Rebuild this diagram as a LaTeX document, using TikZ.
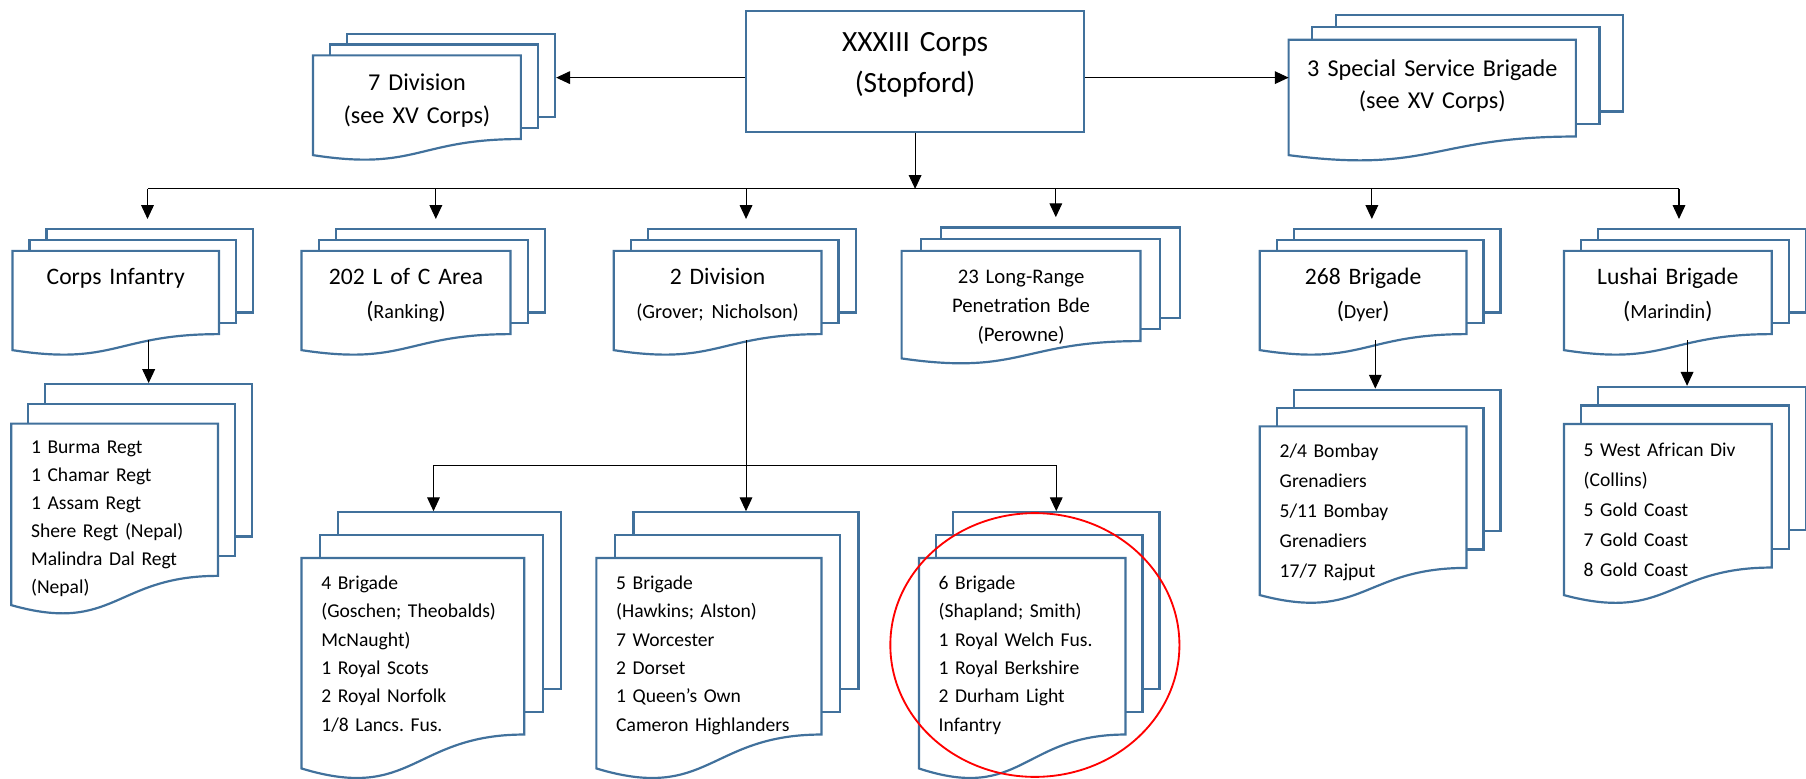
\documentclass[tikz,border=0pt]{standalone}
\usepackage{fontspec}
\setmainfont{Carlito}
\usetikzlibrary{arrows.meta,calc,fit,positioning}
\definecolor{sheetblue}{RGB}{65,113,156}
\pgfdeclarelayer{background}
\pgfsetlayers{background,main}
\frenchspacing
\newcommand{\cmdr}[1]{{\fontsize{17.5}{30}\selectfont #1}}
\newcommand{\multidoc}[1]{%
  \begin{pgfonlayer}{background}
    \path let \p1=($(#1.north east)-(#1.south west)$) in
      coordinate (#1-off) at (0.0824*\x1,0.1087*\y1);
    \coordinate (#1-se) at ($(#1.south east)!0.1613!(#1.north east)$);
    \coordinate (#1-c1) at ($(#1.south)!0.1613!(#1.north)$);
    \coordinate (#1-c2) at ($(#1.south)!-0.1613!(#1.north)$);
    \coordinate (#1-wave) at ($(#1.south)!0.1!(#1.north)$);
    \coordinate (#1-nw2) at ($(#1.north west)+2*(#1-off)$);
    \coordinate (#1-se2) at ($(#1-se)+2*(#1-off)$);
    \coordinate (#1-nw1) at ($(#1.north west)+(#1-off)$);
    \coordinate (#1-se1) at ($(#1-se)+(#1-off)$);
    \node[sheet, fit=(#1-nw2)(#1-se2)] (#1-b2) {};
    \node[sheet, fit=(#1-nw1)(#1-se1)] (#1-b1) {};
    \draw[sheet] (#1.north west) -- (#1.north east) -- (#1-se)
      .. controls (#1-c1) and (#1-c2) .. (#1.south west) -- cycle;
  \end{pgfonlayer}}

\begin{document}
\begin{tikzpicture}[x=1pt, y=-1pt,
    sheet/.style={draw=sheetblue, fill=white, line width=1.9pt, inner sep=0pt},
    doc/.style args={#1/#2/#3}{minimum width=#1pt, minimum height=#2pt, inner sep=0pt, text width=#1pt,
      text height=#3pt, text depth=#2pt-#3pt, align=center, font=\fontsize{20.5}{30}\selectfont},
    list/.style args={#1/#2/#3}{doc=#1/#2/#3, inner xsep=17pt, text width=#1pt-34pt,
      align=left, font=\fontsize{17}{24.6}\selectfont},
    corpsbox/.style={doc=293/105/35, draw=sheetblue, line width=1.9pt, font=\fontsize{25.5}{36}\selectfont},
    arrow/.style={-{Triangle[length=12pt, width=11pt]}, line width=0.9pt},
    link/.style={line width=0.9pt},
    ring/.style={draw=red, line width=1.6pt}
  ]
  \useasboundingbox (0,0) rectangle (1568,676);

  \node[corpsbox] (corps) at (794.5,61.8) {XXXIII Corps\\(Stopford)};
  \node[doc=180/86.2/30.3, font=\fontsize{21}{28.5}\selectfont] (div7) at (362,91.4) {7 Division\\(see XV Corps)};
  \node[doc=249/99.8/31.4, font=\fontsize{21}{27.8}\selectfont] (ssb) at (1243.5,84.6) {3 Special Service Brigade\\(see XV Corps)};

  \node[doc=179/85.8/28.6] (cinf) at (100.5,260.9) {Corps Infantry};
  \node[doc=181/85.8/28.6] (loc) at (352.5,260.9) {202 L of C Area\\(\cmdr{Ranking})};
  \node[doc=180/85.8/28.6] (div2) at (623,260.9) {2 Division\\\cmdr{(Grover; Nicholson)}};
  \node[doc=207/93/27.8, font=\fontsize{18}{25.3}\selectfont] (lrp) at (886.5,264.5) {23 Long-Range\\Penetration Bde\\(Perowne)};
  \node[doc=179/85.8/28.6] (b268) at (1183.5,260.9) {268 Brigade\\(\cmdr{Dyer})};
  \node[doc=180/85.8/28.6] (lushai) at (1448,260.9) {Lushai Brigade\\(\cmdr{Marindin})};

  \node[list=179/157.2/26.1, font=\fontsize{17}{24.2}\selectfont] (cinfl) at (99.5,446.6) {1 Burma Regt\\1 Chamar Regt\\1 Assam Regt\\Shere Regt (Nepal)\\Malindra Dal Regt\\(Nepal)};
  \node[list=193/182.3/27.2] (b4) at (358.5,575.85) {4 Brigade\\(Goschen; Theobalds)\\McNaught)\\1 Royal Scots\\2 Royal Norfolk\\1/8 Lancs. Fus.};
  \node[list=195/182.3/27.2] (b5) at (615.5,575.85) {5 Brigade\\(Hawkins; Alston)\\7 Worcester\\2 Dorset\\1 Queen’s Own\\Cameron Highlanders};
  \node[list=179/182.3/27.2] (b6) at (887.5,575.85) {6 Brigade\\(Shapland; Smith)\\1 Royal Welch Fus.\\1 Royal Berkshire\\2 Durham Light\\Infantry};
  \node[list=179/146.1/27.1, font=\fontsize{17}{26}\selectfont] (b268l) at (1183.5,443.45) {2/4 Bombay\\Grenadiers\\5/11 Bombay\\Grenadiers\\17/7 Rajput};
  \node[list=180/148.1/27.7, font=\fontsize{17}{26}\selectfont] (lushail) at (1448,442.45) {5 West African Div\\(Collins)\\5 Gold Coast\\7 Gold Coast\\8 Gold Coast};

  \multidoc{div7} \multidoc{ssb}
  \multidoc{cinf} \multidoc{loc} \multidoc{div2} \multidoc{lrp} \multidoc{b268} \multidoc{lushai}
  \multidoc{cinfl} \multidoc{b4} \multidoc{b5} \multidoc{b6} \multidoc{b268l} \multidoc{lushail}

  \coordinate (bus) at (794.5,164);
  \coordinate (bus2) at (648,404);

  \draw[arrow] ([yshift=-5.6pt]corps.west) -- ([yshift=-5.6pt]corps.west -| div7-b2.east);
  \draw[arrow] ([yshift=-5.6pt]corps.east) -- ([yshift=-5.6pt]corps.east -| ssb.west);
  \draw[arrow] (corps.south) -- (bus);

  \draw[link] ([xshift=-2pt]cinf-b2.north |- bus) -- ([xshift=-20pt]lushai-b2.north |- bus);
  \draw[arrow, shorten >=8pt] ([xshift=-2pt]cinf-b2.north |- bus) -- ([xshift=-2pt]cinf-b2.north);
  \draw[arrow, shorten >=8pt] ([xshift=-4pt]loc-b2.north |- bus) -- ([xshift=-4pt]loc-b2.north);
  \draw[arrow, shorten >=8pt] ([xshift=-5pt]div2-b2.north |- bus) -- ([xshift=-5pt]div2-b2.north);
  \draw[arrow, shorten >=8pt] ([xshift=-4pt]lrp-b2.north |- bus) -- ([xshift=-4pt]lrp-b2.north);
  \draw[arrow, shorten >=8pt] ([xshift=-22pt]b268-b2.north |- bus) -- ([xshift=-22pt]b268-b2.north);
  \draw[arrow, shorten >=8pt] ([xshift=-20pt]lushai-b2.north |- bus) -- ([xshift=-20pt]lushai-b2.north);

  \draw[arrow] (cinf-wave -| cinfl-b2.north) -- (cinfl-b2.north);
  \draw[arrow] ([xshift=-19pt]b268-wave -| b268l-b2.north) -- ([xshift=-19pt]b268l-b2.north);
  \draw[arrow] ([xshift=-13pt]lushai-wave -| lushail-b2.north) -- ([xshift=-13pt]lushail-b2.north);

  \draw[arrow] (div2-wave -| b5-b2.north) -- (b5-b2.north);
  \draw[link] ([xshift=-14pt]b4-b2.north |- bus2) -- (b6-b2.north |- bus2);
  \draw[arrow] ([xshift=-14pt]b4-b2.north |- bus2) -- ([xshift=-14pt]b4-b2.north);
  \draw[arrow] (b6-b2.north |- bus2) -- (b6-b2.north);

  \draw[ring] (898.5,560) ellipse [x radius=125.5pt, y radius=114.5pt];
\end{tikzpicture}
\end{document}
